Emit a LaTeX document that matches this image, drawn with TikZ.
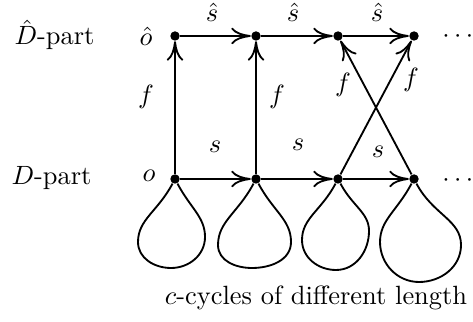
\documentclass[tikz,border=0pt]{standalone}
\usepackage{amsmath,amssymb}
\usepackage{tikz}
\usetikzlibrary{arrows.meta}
\tikzset{
  dot/.style={circle, fill=black, inner sep=0pt, minimum size=1.25mm},
  arrow/.style={-{To[length=2.6mm,width=2.2mm]}, line width=0.7pt},
  loopline/.style={line width=0.7pt},
  legout/.style={out=-118, in=90, out looseness=1.2, in looseness=0.85},
  legin/.style={out=90, in=-62, out looseness=0.85, in looseness=1.2},
  lbl/.style={inner sep=0pt},
}

\begin{document}
\begin{tikzpicture}[x=0.0133cm, y=0.0133cm]
\useasboundingbox (0,0) rectangle (473,322);
% top row (hat part)
\node (t1) [dot] at (175,286) {};
\node (t2) [dot] at (256,286) {};
\node (t3) [dot] at (338,286) {};
\node (t4) [dot] at (414,286) {};
% bottom row
\node (b1) [dot] at (175,143) {};
\node (b2) [dot] at (256,143) {};
\node (b3) [dot] at (338,143) {};
\node (b4) [dot] at (414,143) {};
% labels
\node (Dh) [lbl, anchor=base west] at (14,277) {$\hat{D}$-part};
\node (D)  [lbl, anchor=base west] at (11,137) {$D$-part};
\node (oh) [lbl] at (146,286) {$\hat{o}$};
\node (o)  [lbl] at (149,146) {$o$};
\node (dt) [lbl] at (460,285) {$\cdots$};
\node (db) [lbl] at (460,141) {$\cdots$};
\node (sh1) [lbl] at (212,310) {$\hat{s}$};
\node (sh2) [lbl] at (293,310) {$\hat{s}$};
\node (sh3) [lbl] at (377,310) {$\hat{s}$};
\node (s1) [lbl] at (215,175) {$s$};
\node (s2) [lbl] at (298,177) {$s$};
\node (s3) [lbl] at (378,170) {$s$};
\node (f1) [lbl] at (146,225) {$f$};
\node (f2) [lbl] at (277,225) {$f$};
\node (f3) [lbl] at (343,237) {$f$};
\node (f4) [lbl] at (411,242) {$f$};
\node (cyc) [lbl] at (316,24) {$c$-cycles of different length};
% arrows
\draw[arrow] (t1) -- (t2);
\draw[arrow] (t2) -- (t3);
\draw[arrow] (t3) -- (t4);
\draw[arrow] (b1) -- (b2);
\draw[arrow] (b2) -- (b3);
\draw[arrow] (b3) -- (b4);
\draw[arrow] (b1) -- (t1);
\draw[arrow] (b2) -- (t2);
\draw[arrow] (b3) -- (t4);
\draw[arrow] (b4) -- (t3);
% c-cycles
\draw[loopline] (b1) to[legout] ++(-37,-63) to[out=-90,in=180] ++(33,-26)
  to[out=0,in=-90] ++(34,31) to[legin] (b1);
\draw[loopline] (b2) to[legout] ++(-38,-66) to[out=-90,in=180] ++(34,-23)
  to[out=0,in=-90] ++(39,26) to[legin] (b2);
\draw[loopline] (b3) to[legout] ++(-36,-61) to[out=-90,in=180] ++(34,-30)
  to[out=0,in=-90] ++(33,39) to[legin] (b3);
\draw[loopline] (b4) to[legout] ++(-34,-63) to[out=-90,in=180] ++(39,-40)
  to[out=0,in=-90] ++(42,37) to[legin] (b4);
\end{tikzpicture}
\end{document}
